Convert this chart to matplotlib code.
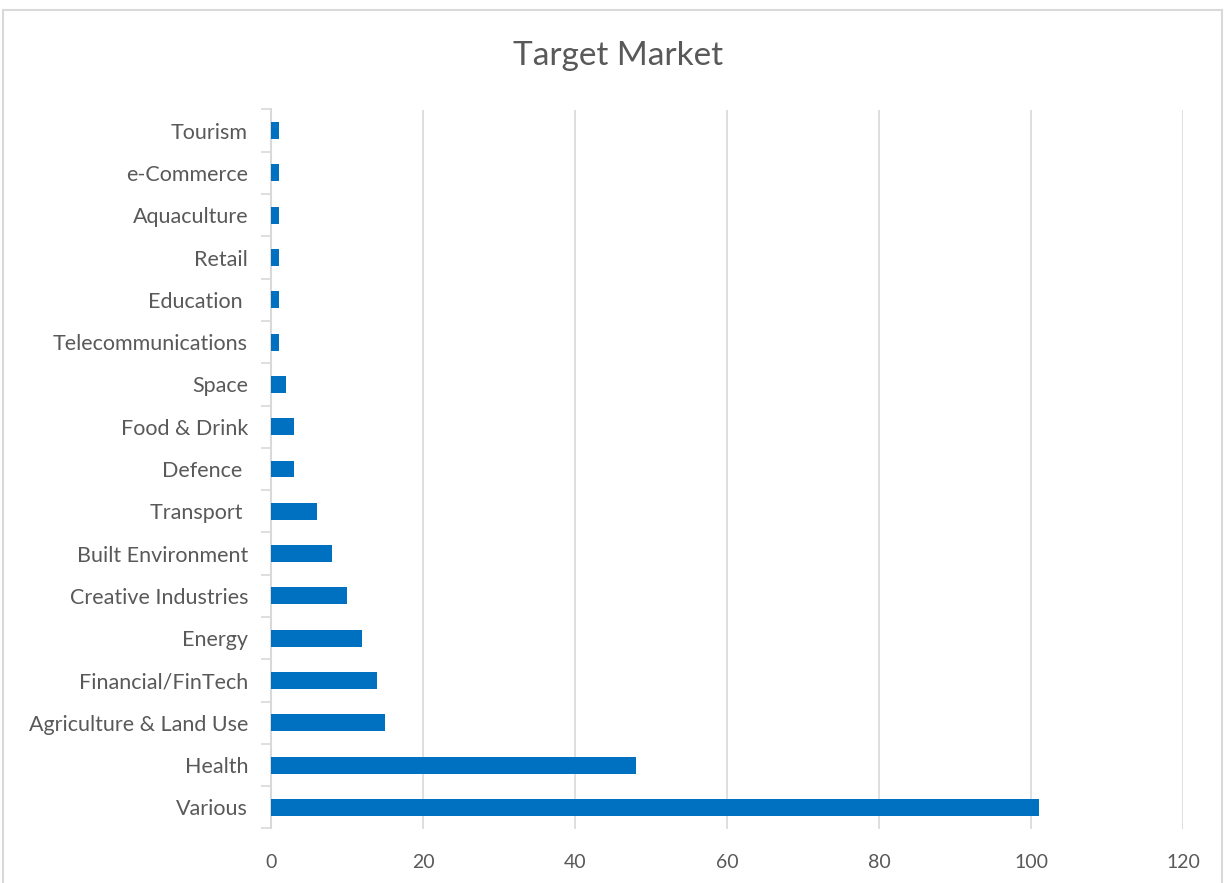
import matplotlib.pyplot as plt
from matplotlib.patches import Rectangle

# Target market counts, bottom to top
markets = ['Various', 'Health', 'Agriculture & Land Use', 'Financial/FinTech', 'Energy',
           'Creative Industries', 'Built Environment', 'Transport ', 'Defence ', 'Food & Drink',
           'Space', 'Telecommunications', 'Education ', 'Retail', 'Aquaculture', 'e-Commerce',
           'Tourism']
counts = [101, 48, 15, 14, 12, 10, 8, 6, 3, 3, 2, 1, 1, 1, 1, 1, 1]
x_ticks = [0, 20, 40, 60, 80, 100, 120]

plt.rcParams['font.family'] = ['Lato', 'DejaVu Sans']
grey = '#595959'
line_grey = '#d9d9d9'

fig = plt.figure(figsize=(12.28, 8.83), dpi=100)
ax = fig.add_axes([271 / 1228, 1 - 828.5 / 883, (1183 - 271) / 1228, (828.5 - 109.5) / 883])

pos = range(len(markets))
ax.barh(pos, counts, height=0.4, color='#0070C0', zorder=3)

ax.set_xlim(0, 120)
ax.set_ylim(-0.5, len(markets) - 0.5)
ax.set_xticks(x_ticks)
ax.set_xticklabels([str(t) for t in x_ticks])
ax.set_yticks(list(pos))
ax.set_yticklabels(markets)

# category boundary ticks, Excel style
ax.set_yticks([i - 0.5 for i in range(len(markets) + 1)], minor=True)
ax.tick_params(axis='y', which='major', length=0, pad=16.5, labelsize=15.5, labelcolor=grey)
ax.tick_params(axis='y', which='minor', length=7, width=1.2, color=line_grey)
ax.tick_params(axis='x', which='major', length=0, pad=18.5, labelsize=14, labelcolor=grey)

ax.grid(axis='x', color=line_grey, linewidth=1.2, zorder=0)
for side in ['top', 'right', 'bottom']:
    ax.spines[side].set_visible(False)
ax.spines['left'].set_color(line_grey)
ax.spines['left'].set_linewidth(1.5)

fig.text(618 / 1228, 1 - 56 / 883, 'Target Market', ha='center', va='center',
         fontsize=24, color=grey)

# outer chart border
fig.patches.append(Rectangle((3 / 1228, -0.01), 1219 / 1228, 1 - 10 / 883 + 0.01,
                             transform=fig.transFigure, fill=False,
                             edgecolor=line_grey, linewidth=1.5))

fig.savefig('out.png', dpi=100)
